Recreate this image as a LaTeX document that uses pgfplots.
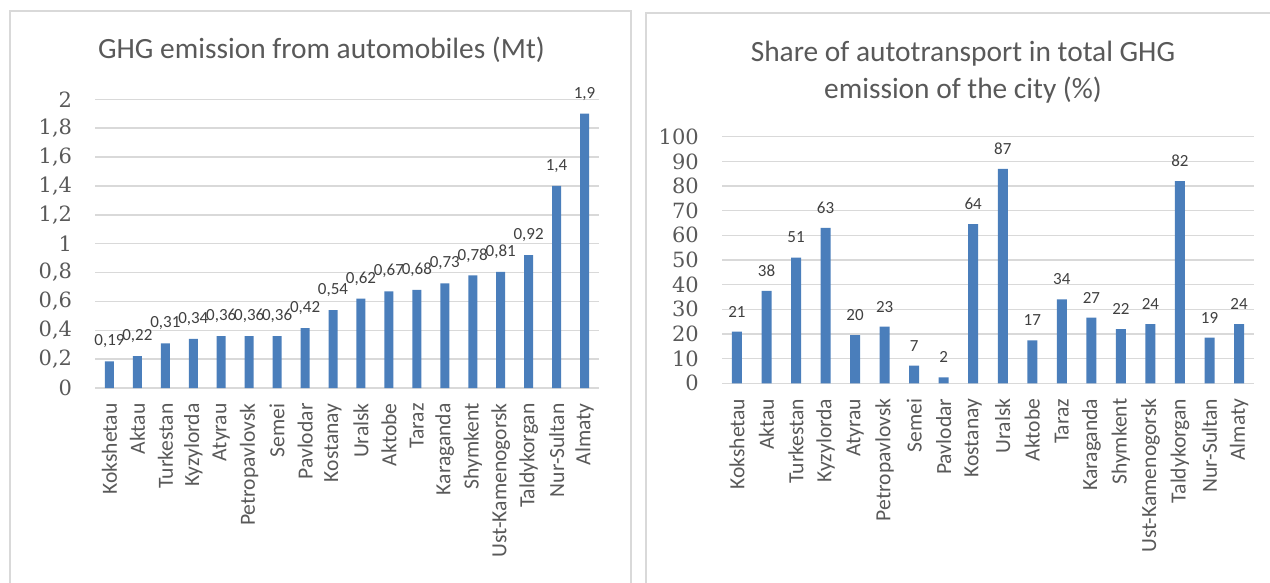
\documentclass[border=0pt]{standalone}
\usepackage{fontspec}
\setmainfont{Carlito}
\newfontfamily\tickfont{DejaVu Serif}
\usepackage{pgfplots}
\usepackage{pgfplotstable}
\pgfplotsset{compat=1.18}
\definecolor{barblue}{HTML}{4A7EBB}
\definecolor{gridgray}{HTML}{D9D9D9}
\definecolor{txtgray}{HTML}{595959}
\definecolor{lblgray}{HTML}{404040}

\pgfplotstableread{
x y lab
0 0.185 0,19
1 0.22 0,22
2 0.31 0,31
3 0.34 0,34
4 0.36 0,36
5 0.36 0,36
6 0.36 0,36
7 0.415 0,42
8 0.54 0,54
9 0.62 0,62
10 0.67 0,67
11 0.68 0,68
12 0.725 0,73
13 0.78 0,78
14 0.805 0,81
15 0.92 0,92
16 1.40 1,4
17 1.90 1,9
}\emis

\pgfplotstableread{
x y lab
0 21 21
1 37.5 38
2 51 51
3 63 63
4 19.5 20
5 23 23
6 7.2 7
7 2.4 2
8 64.5 64
9 87 87
10 17.4 17
11 34 34
12 26.6 27
13 22 22
14 24 24
15 82 82
16 18.5 19
17 24 24
}\share

\pgfplotsset{
  panel/.style={
    scale only axis,
    ybar,
    xmin=-0.5, xmax=17.5, ymin=0,
    xtick={0,...,17},
    xticklabels={Kokshetau,Aktau,Turkestan,Kyzylorda,Atyrau,Petropavlovsk,Semei,Pavlodar,Kostanay,Uralsk,Aktobe,Taraz,Karaganda,Shymkent,Ust-Kamenogorsk,Taldykorgan,Nur-Sultan,Almaty},
    axis line style={draw=none},
    major tick length=0pt,
    ymajorgrids,
    grid style={gridgray, line width=0.75pt},
    xticklabel style={rotate=90, anchor=east, inner sep=0pt, font=\fontsize{10.8}{12}\selectfont, text=txtgray},
    xticklabel shift=7.5pt,
    yticklabel={\tickfont\pgfmathprintnumber[assume math mode=true, use comma]{\tick}},
    yticklabel style={anchor=east, inner sep=0pt, font=\tickfont\fontsize{10.5}{12}\selectfont, text=txtgray},
    yticklabel shift=11.5pt,
    point meta=explicit symbolic,
    nodes near coords,
    nodes near coords style={font=\fontsize{8.5}{9}\selectfont, text=lblgray, anchor=center, yshift=10pt},
    clip=false,
  }
}

\begin{document}
\begin{tikzpicture}
\path[use as bounding box] (0,0) rectangle (635pt,-291.5pt);
\draw[gridgray, line width=1pt] (5pt,-5.5pt) rectangle (315.5pt,-310pt);
\draw[gridgray, line width=1pt] (323pt,-6.3pt) rectangle (640pt,-310pt);

\node[font=\fontsize{14.7}{16}\selectfont, text=txtgray] at (160.75pt,-25pt) {GHG emission from automobiles (Mt)};
\node[font=\fontsize{14.7}{16}\selectfont, text=txtgray] at (481.5pt,-27pt) {Share of autotransport in total GHG};
\node[font=\fontsize{14.7}{16}\selectfont, text=txtgray] at (481.5pt,-45pt) {emission of the city (\%)};

\begin{axis}[panel,
  at={(47.75pt,-194pt)}, anchor=south west,
  width=251.5pt, height=144.35pt,
  ymax=2,
  bar width=4.5pt,
  ytick={0,0.2,0.4,0.6,0.8,1,1.2,1.4,1.6,1.8,2},
]
\addplot[fill=barblue, draw=none] table[x=x, y=y, meta=lab] {\emis};
\end{axis}

\begin{axis}[panel,
  at={(361.1pt,-191.65pt)}, anchor=south west,
  width=265.8pt, height=123.3pt,
  ymax=100,
  bar width=5pt,
  ytick={0,10,...,100},
]
\addplot[fill=barblue, draw=none] table[x=x, y=y, meta=lab] {\share};
\end{axis}
\end{tikzpicture}
\end{document}
